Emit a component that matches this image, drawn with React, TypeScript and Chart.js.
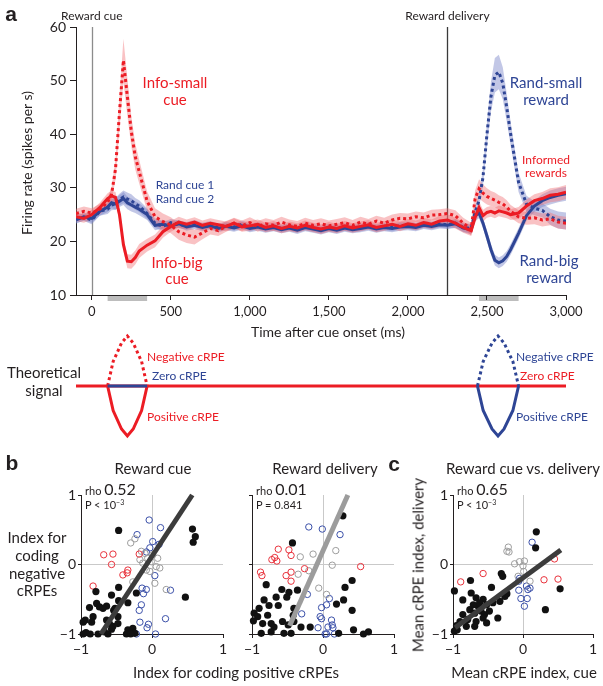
import React, { useEffect, useRef } from 'react';
import { Chart, registerables } from 'chart.js';

Chart.register(...registerables);

const FONT = "Lato, 'Open Sans', 'DejaVu Sans', sans-serif";
const INK = '#231f20';
const RED = '#ec1c24';
const BLUE = '#2e4595';
const RED_BAND = 'rgba(240,110,115,0.42)';
const BLUE_BAND = 'rgba(120,130,200,0.45)';

// ---------------- panel a: firing rate ----------------
const times = [
  -100, -50, 0, 50, 100, 125, 150, 175, 200, 225,
  250, 275, 300, 350, 400, 450, 500, 550, 600, 650,
  700, 750, 800, 850, 900, 950, 1000, 1050, 1100, 1150,
  1200, 1250, 1300, 1350, 1400, 1450, 1500, 1550, 1600, 1650,
  1700, 1750, 1800, 1850, 1900, 1950, 2000, 2050, 2100, 2150,
  2200, 2250, 2300, 2350, 2400, 2425, 2450, 2475, 2500, 2525,
  2550, 2575, 2600, 2625, 2650, 2700, 2750, 2800, 2850, 2900,
  2950, 3000,
];

const infoBigCue = [
  24.6, 24.3, 25.0, 26.3, 28.0, 28.5, 28.2, 25.0, 19.4, 16.3,
  16.2, 17.0, 18.2, 19.3, 20.1, 21.8, 22.8, 23.6, 23.2, 23.6,
  23.0, 23.4, 23.1, 22.8, 23.4, 22.7, 22.9, 23.2, 22.6, 22.9,
  22.4, 22.8, 22.5, 23.0, 22.6, 22.3, 22.7, 22.4, 22.9, 22.5,
  22.8, 23.1, 22.6, 22.9, 23.2, 22.8, 23.3, 23.0, 23.5, 23.2,
  23.8, 24.0, 23.4, 22.6, 22.0, 24.5, 26.3, 24.8, 25.4, 25.6,
  25.3, 25.7, 25.5, 25.3, 25.0, 25.3, 26.6, 27.6, 28.0, 28.6,
  28.8, 29.2,
];
const infoSmallCue = [
  25.2, 25.6, 25.3, 26.0, 27.3, 28.8, 33.5, 44.0, 53.8, 47.0,
  40.5, 35.8, 33.0, 27.5, 24.6, 23.7, 23.0, 21.8, 21.2, 20.8,
  21.6, 22.4, 22.0, 22.8, 23.4, 22.9, 23.5, 22.8, 23.3, 23.0,
  23.6, 23.1, 22.8, 23.4, 23.0, 23.3, 22.9, 23.2, 23.5, 23.0,
  23.6, 23.2, 23.8, 23.4, 24.0, 24.3, 24.2, 24.6, 24.4, 24.9,
  25.0, 25.2, 24.8, 23.4, 22.3, 28.0, 29.8, 29.0, 28.4, 28.0,
  27.7, 27.3, 27.0, 26.4, 25.6, 24.6, 24.3, 24.4, 24.0, 24.2,
  23.6, 23.4,
];
const randSmallReward = [
  24.2, 24.5, 24.0, 25.6, 26.0, 26.8, 27.0, 27.8, 28.3, 27.9,
  27.6, 27.0, 26.6, 25.2, 23.4, 22.8, 23.5, 23.2, 22.9, 23.3,
  22.8, 23.1, 22.6, 23.0, 22.7, 23.2, 22.6, 22.9, 22.5, 22.8,
  22.4, 22.7, 22.3, 22.8, 22.5, 22.2, 22.6, 22.3, 22.7, 22.4,
  22.6, 22.9, 22.5, 22.8, 22.6, 22.9, 23.0, 22.8, 23.2, 23.0,
  23.3, 23.1, 23.4, 22.6, 22.4, 25.5, 27.6, 32.0, 40.0, 47.0,
  51.0, 51.6, 49.5, 45.0, 40.0, 31.0, 27.0, 26.2, 25.8, 24.6,
  24.0, 23.8,
];
const randBigReward = [
  24.0, 24.6, 24.3, 25.6, 26.4, 27.2, 27.0, 27.5, 28.0, 27.2,
  26.8, 26.4, 26.0, 25.0, 23.0, 23.2, 22.9, 23.3, 22.7, 23.0,
  22.6, 22.9, 22.4, 22.8, 22.5, 22.9, 22.4, 22.7, 22.3, 22.6,
  22.2, 22.5, 22.1, 22.6, 22.3, 22.0, 22.4, 22.1, 22.5, 22.2,
  22.4, 22.7, 22.3, 22.6, 22.4, 22.7, 22.8, 22.6, 23.0, 22.8,
  23.1, 23.0, 23.3, 22.5, 22.2, 24.8, 25.3, 23.4, 21.0, 18.5,
  16.5, 16.0, 16.4, 17.2, 18.5, 21.5, 24.8, 26.6, 27.6, 28.2,
  28.6, 28.9,
];

const semInfoBig = [
  0.8, 0.8, 0.9, 0.9, 1.0, 1.0, 1.0, 1.1, 1.2, 1.3,
  1.3, 1.3, 1.3, 1.2, 1.2, 1.1, 1.0, 1.0, 0.9, 0.9,
  0.9, 0.9, 0.9, 0.9, 0.9, 0.9, 0.9, 0.9, 0.9, 0.9,
  0.9, 0.9, 0.9, 0.9, 0.9, 0.9, 0.9, 0.9, 0.9, 0.9,
  0.9, 0.9, 0.9, 0.9, 0.9, 0.9, 0.9, 0.9, 0.9, 0.9,
  1.0, 1.0, 1.0, 1.0, 1.0, 1.1, 1.2, 1.1, 1.0, 1.0,
  1.0, 1.0, 1.0, 1.0, 1.0, 1.1, 1.2, 1.2, 1.2, 1.3,
  1.3, 1.3,
];
const semInfoSmall = [
  0.9, 0.9, 0.9, 1.0, 1.0, 1.2, 2.0, 3.0, 4.0, 3.5,
  2.8, 2.4, 2.2, 1.8, 1.6, 1.5, 1.5, 1.5, 1.5, 1.4,
  1.2, 1.1, 1.0, 1.0, 1.0, 1.0, 1.0, 1.0, 1.0, 1.0,
  1.0, 1.0, 1.0, 1.0, 1.0, 1.0, 1.0, 1.0, 1.0, 1.0,
  1.0, 1.0, 1.0, 1.0, 1.0, 1.0, 1.0, 1.0, 1.0, 1.0,
  1.0, 1.0, 1.0, 1.0, 1.2, 1.5, 1.8, 1.6, 1.5, 1.4,
  1.4, 1.3, 1.3, 1.3, 1.2, 1.2, 1.2, 1.2, 1.2, 1.2,
  1.2, 1.2,
];
const semRandSmall = [
  0.7, 0.7, 0.8, 0.8, 0.9, 1.0, 1.1, 1.1, 1.2, 1.2,
  1.2, 1.1, 1.1, 1.0, 0.9, 0.8, 0.7, 0.7, 0.7, 0.7,
  0.7, 0.7, 0.7, 0.7, 0.7, 0.7, 0.7, 0.7, 0.7, 0.7,
  0.7, 0.7, 0.7, 0.7, 0.7, 0.7, 0.7, 0.7, 0.7, 0.7,
  0.7, 0.7, 0.7, 0.7, 0.7, 0.7, 0.7, 0.7, 0.7, 0.7,
  0.7, 0.7, 0.8, 0.8, 0.9, 1.0, 1.2, 1.6, 2.2, 2.8,
  3.2, 3.2, 3.0, 2.6, 2.2, 1.8, 1.5, 1.3, 1.3, 1.5,
  1.6, 1.6,
];
const semRandBig = [
  0.7, 0.7, 0.8, 0.8, 0.9, 1.0, 1.1, 1.1, 1.2, 1.2,
  1.2, 1.1, 1.1, 1.0, 0.9, 0.8, 0.7, 0.7, 0.7, 0.7,
  0.7, 0.7, 0.7, 0.7, 0.7, 0.7, 0.7, 0.7, 0.7, 0.7,
  0.7, 0.7, 0.7, 0.7, 0.7, 0.7, 0.7, 0.7, 0.7, 0.7,
  0.7, 0.7, 0.7, 0.7, 0.7, 0.7, 0.7, 0.7, 0.7, 0.7,
  0.7, 0.7, 0.8, 0.8, 0.9, 1.0, 1.0, 1.0, 1.0, 1.0,
  1.0, 1.0, 1.0, 1.0, 1.0, 1.0, 1.0, 1.1, 1.2, 1.3,
  1.3, 1.3,
];

const timeTicks = [0, 500, 1000, 1500, 2000, 2500, 3000];
const rateTicks = [10, 20, 30, 40, 50, 60];
const eventTimes = [0, 2250];
const eventLabels = ['Reward cue', 'Reward delivery'];
const windowStarts = [100, 2450];
const windowEnds = [350, 2700];

// ---------------- theoretical signal ----------------
const thBaseT = [-100, 3000];
const thBaseV = [0, 0];
const cueZeroT = [100, 350];
const cueZeroV = [0, 0];
const cueShapeT = [100, 135, 188, 225, 262, 315, 350];
const rewShapeT = [2440, 2476, 2532, 2570, 2608, 2664, 2700];
const negShapeV = [0, 0.49, 0.86, 1, 0.86, 0.49, 0];
const posShapeV = [0, -0.49, -0.86, -1, -0.86, -0.49, 0];

// ---------------- panel b / c scatter ----------------
const unitTicks = [-1, 0, 1];

const b1Black = [
  [-0.47, 0.49], [0.57, 0.51], [0.61, 0.40], [0.58, 0.32], [0.47, -0.47], [-0.79, -0.39],
  [-0.47, -0.33], [-0.57, -0.44], [-0.22, -0.41], [-0.78, -0.56], [-0.74, -0.61], [-0.64, -0.60],
  [-0.88, -0.62], [-0.69, -0.63], [-0.47, -0.52], [-0.52, -0.63], [-0.34, -0.55], [-0.54, -0.66],
  [-0.83, -0.75], [-0.94, -0.80], [-0.97, -0.83], [-0.85, -0.83], [-0.64, -0.80], [-0.60, -0.85],
  [-0.55, -0.89], [-0.48, -0.85], [-0.57, -0.93], [-0.34, -0.94], [-0.27, -0.92], [-0.24, -0.99],
  [-0.36, -1.0], [-0.67, -0.97], [-0.62, -1.0], [-0.93, -0.98], [-0.87, -1.0], [-0.97, -1.0],
  [-0.76, -1.0], [-0.30, -1.0], [-0.48, -0.75],
];
const b1Red = [
  [-0.68, 0.14], [-0.55, 0.15], [-0.57, 0.0], [-0.41, -0.15], [-0.34, -0.08], [-0.35, -0.12],
  [-0.18, 0.15], [-0.83, -0.31],
];
const b1Gray = [
  [-0.30, 0.31], [-0.24, 0.37], [-0.15, 0.19], [-0.10, 0.16], [-0.17, 0.07], [-0.06, 0.09],
  [-0.01, 0.04], [0.08, 0.09], [0.06, -0.03], [0.11, -0.05], [-0.03, -0.10], [-0.08, -0.08],
  [-0.13, 0.02], [0.04, -0.27], [0.20, -0.36], [-0.27, -0.25], [0.01, 0.14],
];
const b1Blue = [
  [-0.04, 0.64], [0.12, 0.53], [-0.21, 0.43], [-0.08, 0.18], [0.01, 0.33], [0.10, 0.29],
  [-0.03, 0.24], [0.04, -0.16], [-0.14, -0.34], [-0.08, -0.36], [-0.12, -0.42], [0.26, -0.37],
  [-0.15, -0.58], [-0.18, -0.66], [-0.17, -0.83], [-0.05, -0.86], [-0.07, -0.91], [0.19, -0.78],
  [0.05, -1.0], [-0.22, -1.0],
];
const b1Fit = [[-0.72, -1], [0.567, 1]];

const b2Black = [
  [0.28, 0.70], [-0.43, 0.31], [-0.80, -0.29], [-0.58, -0.36], [-0.48, -0.40], [-0.36, -0.37],
  [-0.51, -0.47], [-0.66, -0.47], [-0.63, -0.59], [-0.83, -0.51], [-0.76, -0.59], [-0.90, -0.63],
  [-0.97, -0.70], [-0.92, -0.75], [-0.78, -0.73], [-0.98, -0.81], [-0.85, -0.85], [-0.73, -0.85],
  [-0.69, -0.90], [-0.57, -0.82], [-0.49, -0.87], [-0.41, -0.63], [-0.42, -0.73], [-0.31, -0.90],
  [-0.18, -0.90], [-0.41, -0.82], [-0.55, -0.99], [-0.45, -0.99], [-0.73, -0.97], [-0.87, -0.99],
  [0.31, -0.33], [0.41, -0.23], [0.29, -0.51], [0.19, -0.57], [0.41, -0.66], [0.22, -0.99],
  [0.43, -0.94], [0.57, -1.0], [0.64, -0.97],
];
const b2Red = [
  [-0.63, 0.22], [-0.68, 0.10], [-0.72, 0.07], [-0.65, 0.05], [-0.48, 0.21], [-0.45, 0.13],
  [-0.88, -0.11], [-0.86, -0.16], [-0.45, -0.11], [-0.52, -0.16], [-0.45, -0.24], [-0.26, -0.06],
  [0.53, -0.03],
];
const b2Gray = [
  [-0.14, 0.15], [-0.32, 0.11], [0.18, 0.20], [0.13, -0.01], [-0.35, -0.14], [-0.20, -0.09],
  [-0.06, -0.34], [0.05, -0.43],
];
const b2Blue = [
  [-0.20, 0.54], [-0.01, 0.51], [0.24, 0.43], [-0.22, -0.43], [0.09, -0.49], [0.05, -0.58],
  [-0.02, -0.62], [-0.30, -0.71], [-0.04, -0.75], [-0.02, -0.78], [0.12, -0.80], [0.13, -0.87],
  [-0.07, -0.91], [0.07, -0.90], [0.14, -0.91], [0.05, -1.0], [0.03, -1.0], [0.16, -1.0],
];
const b2Fit = [[-0.47, -0.88], [0.35, 1.0]];

const cBlack = [
  [0.19, 0.47], [0.18, 0.24], [0.53, -0.35], [0.32, -0.65], [-0.31, -0.13], [-0.29, -0.17],
  [-0.75, -0.23], [-0.98, -0.38], [-0.45, -0.33], [-0.86, -0.51], [-0.74, -0.41], [-0.67, -0.48],
  [-0.57, -0.50], [-0.64, -0.60], [-0.52, -0.58], [-0.43, -0.55], [-0.33, -0.53], [-0.26, -0.46],
  [-0.23, -0.42], [-0.76, -0.65], [-0.69, -0.70], [-0.60, -0.67], [-0.55, -0.72], [-0.48, -0.67],
  [-0.86, -0.72], [-0.79, -0.79], [-0.90, -0.82], [-0.67, -0.82], [-0.57, -0.77], [-0.52, -0.84],
  [-0.36, -0.77], [-0.81, -0.89], [-0.69, -0.89], [-0.95, -0.88], [-0.98, -0.96], [-0.94, -0.94],
  [-0.62, -0.55], [-0.71, -0.58],
];
const cRed = [
  [-0.57, -0.13], [-0.89, -0.25], [0.45, 0.08], [0.30, -0.22], [0.50, -0.21],
];
const cGray = [
  [-0.21, 0.25], [-0.20, 0.18], [-0.23, 0.19], [-0.12, 0.01], [-0.05, 0.04], [0.02, 0.05],
  [0.0, -0.02], [0.01, -0.10], [-0.07, -0.17], [0.10, -0.24],
];
const cBlue = [
  [0.13, 0.32], [-0.05, -0.20], [-0.06, -0.24], [0.05, -0.31], [0.10, -0.34], [0.07, -0.36],
  [-0.06, -0.37], [-0.03, -0.49], [0.06, -0.49], [0.02, -0.60],
];
const cFit = [[-0.97, -0.91], [0.54, 0.21]];

// ---------------- helpers ----------------
const xy = (ts: number[], vs: number[]) => vs.map((v, i) => ({ x: ts[i], y: v }));
const pairs = (arr: number[][]) => arr.map(([x, y]) => ({ x, y }));

const lineDs = (vals: number[], color: string, dashed: boolean, order: number) => ({
  data: xy(times, vals),
  borderColor: color,
  borderWidth: 3,
  borderDash: dashed ? [3, 3] : [],
  borderCapStyle: 'butt',
  pointRadius: 0,
  fill: false,
  tension: 0,
  order,
});
const bandDs = (vals: number[], sem: number[], color: string, order: number) => [
  {
    data: xy(times, vals.map((v, i) => v + sem[i])),
    borderWidth: 0,
    pointRadius: 0,
    backgroundColor: color,
    fill: '+1',
    order,
  },
  {
    data: xy(times, vals.map((v, i) => v - sem[i])),
    borderWidth: 0,
    pointRadius: 0,
    fill: false,
    order,
  },
];

const eventColors = ['#8c8c8c', '#3a3a3a'];

const topDecor = {
  id: 'topDecor',
  beforeDraw(chart: any) {
    const { ctx, chartArea, scales } = chart;
    const x = scales.x;
    ctx.save();
    ctx.fillStyle = '#bdbdbd';
    windowStarts.forEach((s, i) => {
      const a = x.getPixelForValue(s);
      const b = x.getPixelForValue(windowEnds[i]);
      ctx.fillRect(a, chartArea.bottom + 1, b - a, 5);
    });
    ctx.restore();
  },
  beforeDatasetsDraw(chart: any) {
    const { ctx, chartArea, scales } = chart;
    const x = scales.x;
    ctx.save();
    eventTimes.forEach((t, i) => {
      const px = Math.round(x.getPixelForValue(t)) + 0.5;
      ctx.strokeStyle = eventColors[i];
      ctx.lineWidth = 1.3;
      ctx.beginPath();
      ctx.moveTo(px, chartArea.top);
      ctx.lineTo(px, chartArea.bottom);
      ctx.stroke();
    });
    ctx.restore();
  },
  afterDraw(chart: any) {
    const { ctx, scales } = chart;
    const x = scales.x;
    ctx.save();
    ctx.fillStyle = INK;
    ctx.font = `12px ${FONT}`;
    ctx.textAlign = 'center';
    ctx.textBaseline = 'middle';
    eventTimes.forEach((t, i) => {
      ctx.fillText(eventLabels[i], x.getPixelForValue(t), 16);
    });
    ctx.restore();
  },
};

const topConfig = () => ({
  type: 'line',
  data: {
    datasets: [
      lineDs(infoBigCue, RED, false, 1),
      lineDs(infoSmallCue, RED, true, 1),
      lineDs(randBigReward, BLUE, false, 2),
      lineDs(randSmallReward, BLUE, true, 2),
      ...bandDs(infoBigCue, semInfoBig, RED_BAND, 10),
      ...bandDs(infoSmallCue, semInfoSmall, RED_BAND, 10),
      ...bandDs(randBigReward, semRandBig, BLUE_BAND, 11),
      ...bandDs(randSmallReward, semRandSmall, BLUE_BAND, 11),
    ],
  },
  options: {
    animation: false,
    responsive: false,
    events: [],
    layout: { padding: { left: 0, right: 37, top: 27, bottom: 0 } },
    plugins: { legend: { display: false }, tooltip: { enabled: false } },
    scales: {
      x: {
        type: 'linear',
        min: -100,
        max: 3000,
        afterBuildTicks: (s: any) => { s.ticks = timeTicks.map((v) => ({ value: v })); },
        afterFit: (s: any) => { s.height = 50; },
        grid: { drawOnChartArea: false, drawTicks: true, tickLength: 5, color: INK },
        border: { display: true, color: INK, width: 1 },
        ticks: {
          autoSkip: false, maxRotation: 0, padding: 4, color: INK,
          font: { family: FONT, size: 13 },
          callback: (v: number) => v.toLocaleString('en-US'),
        },
      },
      y: {
        type: 'linear',
        min: 10,
        max: 60,
        afterBuildTicks: (s: any) => { s.ticks = rateTicks.map((v) => ({ value: v })); },
        afterFit: (s: any) => { s.width = 76; },
        grid: { drawOnChartArea: false, drawTicks: true, tickLength: 6, color: INK },
        border: { display: true, color: INK, width: 1 },
        ticks: { padding: 4, color: INK, font: { family: FONT, size: 14 } },
      },
    },
  },
  plugins: [topDecor],
});

const thLine = (ts: number[], vs: number[], color: string, dashed: boolean) => ({
  data: xy(ts, vs),
  borderColor: color,
  borderWidth: 3,
  borderDash: dashed ? [3, 3] : [],
  borderCapStyle: 'butt',
  borderJoinStyle: 'miter',
  pointRadius: 0,
  fill: false,
  tension: 0,
  clip: false,
});

const thConfig = () => ({
  type: 'line',
  data: {
    datasets: [
      { ...thLine(cueZeroT, cueZeroV, BLUE, false), order: 1 },
      { ...thLine(cueShapeT, negShapeV, RED, true), order: 1 },
      { ...thLine(cueShapeT, posShapeV, RED, false), order: 1 },
      { ...thLine(rewShapeT, negShapeV, BLUE, true), order: 1 },
      { ...thLine(rewShapeT, posShapeV, BLUE, false), order: 1 },
      { ...thLine(thBaseT, thBaseV, RED, false), order: 5 },
    ],
  },
  options: {
    animation: false,
    responsive: false,
    events: [],
    layout: { padding: { left: 76, right: 37, top: 10, bottom: 10 } },
    plugins: { legend: { display: false }, tooltip: { enabled: false } },
    scales: {
      x: { type: 'linear', min: -100, max: 3000, display: false },
      y: { type: 'linear', min: -1, max: 1, display: false },
    },
  },
});

const zeroGrid = (ctx: any) => (ctx.tick && ctx.tick.value === 0 ? '#c9c9c9' : 'rgba(0,0,0,0)');
const fmtUnit = (v: number) => (v < 0 ? '\u2212' + Math.abs(v) : String(v));

const scatterConfig = (
  black: number[][], red: number[][], gray: number[][], blue: number[][],
  fit: number[][], fitColor: string, yWidth: number, yLabels: boolean, padRight: number,
) => () => ({
  type: 'scatter',
  data: {
    datasets: [
      {
        data: pairs(fit), showLine: true, borderColor: fitColor, borderWidth: 5,
        borderCapStyle: 'butt', pointRadius: 0, clip: false,
      },
      { data: pairs(black), pointRadius: 3.6, backgroundColor: '#111', borderWidth: 0, clip: false },
      { data: pairs(red), pointRadius: 3.2, backgroundColor: 'rgba(0,0,0,0)', borderColor: '#e8323c', borderWidth: 1, clip: false },
      { data: pairs(gray), pointRadius: 3.2, backgroundColor: 'rgba(0,0,0,0)', borderColor: '#9d9d9d', borderWidth: 1, clip: false },
      { data: pairs(blue), pointRadius: 3.2, backgroundColor: 'rgba(0,0,0,0)', borderColor: '#3a4fa8', borderWidth: 1, clip: false },
    ],
  },
  options: {
    animation: false,
    responsive: false,
    events: [],
    layout: { padding: { left: 0, right: padRight, top: 45, bottom: 0 } },
    plugins: { legend: { display: false }, tooltip: { enabled: false } },
    scales: {
      x: {
        type: 'linear', min: -1, max: 1,
        afterBuildTicks: (s: any) => { s.ticks = unitTicks.map((v) => ({ value: v })); },
        afterFit: (s: any) => { s.height = 52; },
        grid: { color: zeroGrid, tickColor: INK, tickLength: 4, lineWidth: 1 },
        border: { display: true, color: INK, width: 1 },
        ticks: {
          autoSkip: false, maxRotation: 0, padding: 3, color: INK,
          font: { family: FONT, size: 14 }, callback: fmtUnit,
        },
      },
      y: {
        type: 'linear', min: -1, max: 1,
        afterBuildTicks: (s: any) => { s.ticks = unitTicks.map((v) => ({ value: v })); },
        afterFit: (s: any) => { s.width = yWidth; },
        grid: { color: zeroGrid, tickColor: INK, tickLength: 3, lineWidth: 1 },
        border: { display: true, color: INK, width: 1 },
        ticks: {
          display: yLabels, padding: 2, color: INK,
          font: { family: FONT, size: 14 }, callback: fmtUnit,
        },
      },
    },
  },
});

function ChartBox(props: { left: number; top: number; width: number; height: number; config: () => any }) {
  const ref = useRef<HTMLCanvasElement>(null);
  useEffect(() => {
    const chart = new Chart(ref.current as HTMLCanvasElement, props.config());
    return () => chart.destroy();
  }, []);
  return (
    <canvas
      ref={ref}
      width={props.width}
      height={props.height}
      style={{ position: 'absolute', left: props.left, top: props.top, width: props.width, height: props.height }}
    />
  );
}

function T(props: {
  x: number; y: number; children: any; size?: number; color?: string;
  anchor?: 'left' | 'center'; bold?: boolean; rotate?: boolean; family?: string;
}) {
  const { x, y, children, size = 13, color = INK, anchor = 'center', bold = false, rotate = false, family = FONT } = props;
  const tx = anchor === 'left' ? '0' : '-50%';
  return (
    <div
      style={{
        position: 'absolute', left: x, top: y,
        transform: `translate(${tx}, -50%)${rotate ? ' rotate(-90deg)' : ''}`,
        transformOrigin: rotate ? 'center' : undefined,
        fontSize: size, color, fontFamily: family, fontWeight: bold ? 700 : 400,
        whiteSpace: 'nowrap', lineHeight: 1,
      }}
    >
      {children}
    </div>
  );
}

function Rho(props: { x: number; value: string; p: any }) {
  return (
    <>
      <T x={props.x} y={489} anchor="left">
        <span style={{ fontSize: 11 }}>rho </span>
        <span style={{ fontSize: 16 }}>{props.value}</span>
      </T>
      <T x={props.x} y={504} anchor="left" size={11}>{props.p}</T>
    </>
  );
}

const pLow = <span>P &lt; 10<sup style={{ fontSize: 7 }}>−3</sup></span>;

export default function App() {
  return (
    <div style={{ position: 'absolute', left: 0, top: 0, width: 603, height: 686, background: '#fff', overflow: 'hidden' }}>
      <ChartBox left={0} top={0} width={603} height={345} config={topConfig} />
      <ChartBox left={0} top={326} width={603} height={120} config={thConfig} />
      <ChartBox left={0} top={450} width={240} height={236}
        config={scatterConfig(b1Black, b1Red, b1Gray, b1Blue, b1Fit, '#3c3c3c', 81, true, 17)} />
      <ChartBox left={240} top={450} width={170} height={236}
        config={scatterConfig(b2Black, b2Red, b2Gray, b2Blue, b2Fit, '#9c9c9c', 12, false, 16)} />
      <ChartBox left={410} top={450} width={193} height={236}
        config={scatterConfig(cBlack, cRed, cGray, cBlue, cFit, '#3c3c3c', 43, true, 10)} />

      <T x={11} y={13} size={21} bold family="'Liberation Sans', Arial, sans-serif">a</T>
      <T x={27} y={163} size={14} rotate>Firing rate (spikes per s)</T>
      <T x={328} y={332} size={14}>Time after cue onset (ms)</T>

      <T x={175} y={82} size={15} color={RED}>Info-small</T>
      <T x={175} y={99} size={15} color={RED}>cue</T>
      <T x={177} y={262} size={15} color={RED}>Info-big</T>
      <T x={177} y={278} size={15} color={RED}>cue</T>
      <T x={185} y={185} size={12} color={BLUE}>Rand cue 1</T>
      <T x={185} y={199} size={12} color={BLUE}>Rand cue 2</T>
      <T x={546} y={82} size={15} color={BLUE}>Rand-small</T>
      <T x={546} y={99} size={15} color={BLUE}>reward</T>
      <T x={546} y={160} size={12} color={RED}>Informed</T>
      <T x={546} y={173} size={12} color={RED}>rewards</T>
      <T x={549} y={260} size={15} color={BLUE}>Rand-big</T>
      <T x={549} y={277} size={15} color={BLUE}>reward</T>

      <T x={44} y={372} size={15}>Theoretical</T>
      <T x={44} y={390} size={15}>signal</T>
      <T x={147} y={357} size={12} color={RED} anchor="left">Negative cRPE</T>
      <T x={152} y={376} size={12} color={BLUE} anchor="left">Zero cRPE</T>
      <T x={147} y={417} size={12} color={RED} anchor="left">Positive cRPE</T>
      <T x={516} y={357} size={12} color={BLUE} anchor="left">Negative cRPE</T>
      <T x={520} y={376} size={12} color={RED} anchor="left">Zero cRPE</T>
      <T x={516} y={417} size={12} color={BLUE} anchor="left">Positive cRPE</T>

      <T x={12} y={462} size={21} bold family="'Liberation Sans', Arial, sans-serif">b</T>
      <T x={394} y={463} size={21} bold family="'Liberation Sans', Arial, sans-serif">c</T>
      <T x={153} y={468} size={15}>Reward cue</T>
      <T x={325} y={468} size={15}>Reward delivery</T>
      <T x={523} y={468} size={15}>Reward cue vs. delivery</T>

      <Rho x={85} value="0.52" p={pLow} />
      <Rho x={256} value="0.01" p={<span>P = 0.841</span>} />
      <Rho x={457} value="0.65" p={pLow} />

      <T x={37} y={537} size={15}>Index for</T>
      <T x={37} y={555} size={15}>coding</T>
      <T x={37} y={573} size={15}>negative</T>
      <T x={37} y={590} size={15}>cRPEs</T>
      <T x={236} y={672} size={15}>Index for coding positive cRPEs</T>
      <T x={418} y={565} size={15} rotate>Mean cRPE index, delivery</T>
      <T x={524} y={672} size={15}>Mean cRPE index, cue</T>
    </div>
  );
}
